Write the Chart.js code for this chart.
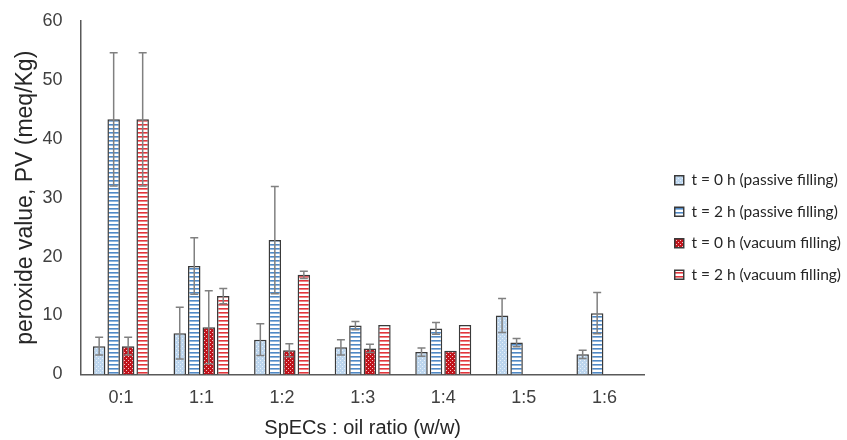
<!DOCTYPE html>
<html>
<head>
<meta charset="utf-8">
<script src="https://cdn.jsdelivr.net/npm/chart.js@4.4.0/dist/chart.umd.min.js"></script>
<style>
  html, body { margin: 0; padding: 0; background: #fff; }
  #wrap { width: 847px; height: 440px; }
</style>
</head>
<body>
<div id="wrap"><canvas id="chart"></canvas></div>
<script>
'use strict';
// data
var ratios = ['0:1', '1:1', '1:2', '1:3', '1:4', '1:5', '1:6'];
var seriesNames = ['t = 0 h (passive filling)', 't = 2 h (passive filling)', 't = 0 h (vacuum filling)', 't = 2 h (vacuum filling)'];
var passive0 = [4.8, 7.0, 5.9, 4.6, 3.8, 10.0, 3.4];
var passive2 = [43.3, 18.4, 22.8, 8.3, 7.8, 5.4, 10.4];
var vacuum0 = [4.8, 8.0, 4.1, 4.4, 4.0, null, null];
var vacuum2 = [43.3, 13.3, 16.9, 8.4, 8.4, null, null];
// error bar half widths
var passive0Err = [1.5, 4.4, 2.7, 1.3, 0.7, 2.9, 0.7];
var passive2Err = [11.3, 4.8, 9.1, 0.7, 1.0, 0.7, 3.5];
var vacuum0Err = [1.5, 6.2, 1.1, 0.7, 0, null, null];
var vacuum2Err = [11.3, 1.3, 0.6, 0, 0, null, null];
var yTicks = [0, 10, 20, 30, 40, 50, 60];

// fill patterns
function dotPattern(bg, dot) {
    var c = document.createElement('canvas');
    c.width = 4; c.height = 4;
    var p = c.getContext('2d');
    p.fillStyle = bg;
    p.fillRect(0, 0, 4, 4);
    p.fillStyle = dot;
    p.fillRect(0, 0, 1, 1);
    p.fillRect(2, 2, 1, 1);
    return p.createPattern(c, 'repeat');
}
function stripePattern(line) {
    var c = document.createElement('canvas');
    c.width = 4; c.height = 4;
    var p = c.getContext('2d');
    p.fillStyle = '#ffffff';
    p.fillRect(0, 0, 4, 4);
    p.fillStyle = line;
    p.fillRect(0, 0, 4, 1.6);
    return p.createPattern(c, 'repeat');
}

// draw the error bars from each dataset's errors list
var errorBars = {
    id: 'errorBars',
    afterDatasetsDraw: function (chart) {
        var ctx = chart.ctx;
        var y = chart.scales.y;
        chart.data.datasets.forEach(function (ds, i) {
            var meta = chart.getDatasetMeta(i);
            meta.data.forEach(function (bar, j) {
                var v = ds.data[j];
                var e = ds.errors[j];
                if (v == null || !e) return;
                var top = y.getPixelForValue(v + e);
                var bottom = y.getPixelForValue(v - e);
                ctx.save();
                ctx.strokeStyle = '#808080';
                ctx.lineWidth = 1.5;
                ctx.beginPath();
                ctx.moveTo(bar.x, top);
                ctx.lineTo(bar.x, bottom);
                ctx.moveTo(bar.x - 4, top);
                ctx.lineTo(bar.x + 4, top);
                ctx.moveTo(bar.x - 4, bottom);
                ctx.lineTo(bar.x + 4, bottom);
                ctx.stroke();
                ctx.restore();
            });
        });
    }
};

// move the legend a bit right and up, like the original
var legendShift = {
    id: 'legendShift',
    afterLayout: function (chart) {
        var l = chart.legend;
        l.left += 14; l.right += 14;
        l.top -= 3; l.bottom -= 3;
    }
};

var ctx = document.getElementById('chart').getContext('2d');
var chart = new Chart(ctx, {
    type: 'bar',
    data: {
        labels: ratios,
        datasets: [
            { label: seriesNames[0], data: passive0, errors: passive0Err, backgroundColor: dotPattern('#bdd6ee', '#e8f1fa') },
            { label: seriesNames[1], data: passive2, errors: passive2Err, backgroundColor: stripePattern('#4f89c6') },
            { label: seriesNames[2], data: vacuum0, errors: vacuum0Err, backgroundColor: dotPattern('#c0141c', '#f6c4c6') },
            { label: seriesNames[3], data: vacuum2, errors: vacuum2Err, backgroundColor: stripePattern('#e2353b') }
        ]
    },
    options: {
        responsive: true,
        maintainAspectRatio: false,
        animation: false,
        devicePixelRatio: 1,
        datasets: {
            bar: {
                borderColor: '#3a3a3a',
                borderWidth: 1.5,
                categoryPercentage: 0.72,
                barPercentage: 0.86
            }
        },
        layout: { padding: { left: 10, right: 10, top: 21, bottom: 0 } },
        scales: {
            x: {
                grid: { display: false, drawTicks: false },
                border: { display: true, color: '#595959', width: 1.5 },
                ticks: { color: '#404040', padding: 13, font: { family: 'Liberation Sans', size: 18 } },
                title: { display: true, text: 'SpECs : oil ratio (w/w)', color: '#262626', padding: { top: 7, bottom: 0 }, font: { family: 'Liberation Sans', size: 20 } },
                afterFit: function (scale) { scale.height -= 13; }
            },
            y: {
                min: 0,
                max: 60,
                afterBuildTicks: function (axis) {
                    axis.ticks = yTicks.map(function (v) { return { value: v }; });
                },
                grid: { display: false, drawTicks: false },
                border: { display: true, color: '#595959', width: 1.5 },
                ticks: { color: '#404040', padding: 18, font: { family: 'Liberation Sans', size: 18 } },
                title: { display: true, text: 'peroxide value, PV (meq/Kg)', color: '#262626', padding: { top: 2, bottom: 2 }, font: { family: 'Liberation Sans', size: 23 } },
                afterFit: function (scale) { scale.width -= 17; scale.paddingTop = 0; }
            }
        },
        plugins: {
            legend: {
                position: 'right',
                labels: {
                    boxWidth: 9,
                    boxHeight: 9,
                    padding: 16,
                    color: '#262626',
                    font: { family: 'Lato', size: 15.5 }
                }
            },
            tooltip: { enabled: false }
        }
    },
    plugins: [errorBars, legendShift]
});
</script>
</body>
</html>
